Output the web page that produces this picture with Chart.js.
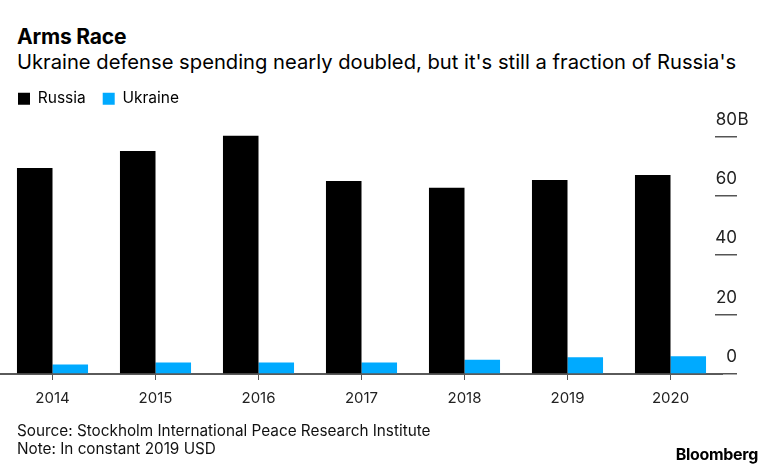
<!DOCTYPE html>
<html>
<head>
<meta charset="utf-8">
<script src="https://cdn.jsdelivr.net/npm/chart.js@4"></script>
<style>
  html, body { margin: 0; padding: 0; background: #fff; }
  body { width: 775px; height: 472px; position: relative; overflow: hidden; font-family: Inter, "Liberation Sans", Arial, sans-serif; color: #000; }
  .t { position: absolute; white-space: nowrap; line-height: 1; }
  #title { left: 17px; top: 26px; font-size: 21px; font-weight: 700; letter-spacing: -0.2px; }
  #subtitle { left: 17px; top: 52px; font-size: 20.2px; }
  #src { left: 17px; top: 423px; font-size: 15.3px; color: #111; }
  #note { left: 17px; top: 441px; font-size: 15.3px; color: #111; }
  #logo { right: 17px; top: 446px; font-size: 16px; font-weight: 700; letter-spacing: -0.3px; }
  #wrap { position: absolute; left: 0; top: 74px; width: 775px; height: 398px; }
</style>
</head>
<body>
<div class="t" id="title">Arms Race</div>
<div class="t" id="subtitle">Ukraine defense spending nearly doubled, but it's still a fraction of Russia's</div>
<div id="wrap"><canvas id="c"></canvas></div>
<div class="t" id="src">Source: Stockholm International Peace Research Institute</div>
<div class="t" id="note">Note: In constant 2019 USD</div>
<div class="t" id="logo">Bloomberg</div>
<script>
const years = ["2014", "2015", "2016", "2017", "2018", "2019", "2020"];
const russia = [69.4, 75.1, 80.2, 65.0, 62.7, 65.3, 67.0];
const ukraine = [3.2, 3.9, 3.9, 3.9, 4.8, 5.6, 6.0];
const yTicks = [0, 20, 40, 60, 80];
const yUnit = "B";
const seriesNames = ["Russia", "Ukraine"];
const seriesColors = ["#000000", "#00aaff"];

const FONT = "Inter, 'Liberation Sans', Arial, sans-serif";
const Y_MAX = 86.7;
const topTick = yTicks[yTicks.length - 1];

new Chart(document.getElementById('c'), {
  type: 'bar',
  data: {
    labels: years,
    datasets: [
      { label: seriesNames[0], data: russia, backgroundColor: seriesColors[0], yAxisID: 'y' },
      { label: seriesNames[1], data: ukraine, backgroundColor: seriesColors[1], yAxisID: 'y' }
    ]
  },
  options: {
    responsive: true,
    maintainAspectRatio: false,
    animation: false,
    events: [],
    layout: { padding: { left: 1, right: 0, top: 0, bottom: 68 } },
    datasets: { bar: { categoryPercentage: 0.69, barPercentage: 1.0 } },
    plugins: {
      tooltip: { enabled: false },
      legend: {
        display: true,
        position: 'top',
        align: 'start',
        labels: {
          boxWidth: 12,
          boxHeight: 12,
          padding: 17,
          color: '#000',
          font: { family: FONT, size: 15.5 }
        }
      }
    },
    scales: {
      x: {
        type: 'category',
        offset: true,
        grid: { display: true, drawOnChartArea: false, offset: false, tickLength: 6, color: '#555', lineWidth: 1 },
        border: { display: true, color: '#5a5a5a', width: 2 },
        ticks: { color: '#222', padding: 9, maxRotation: 0, font: { family: FONT, size: 15 } },
        afterFit: s => { s.height = 30; }
      },
      ySpacer: {
        type: 'linear',
        position: 'right',
        weight: 0,
        display: true,
        grid: { display: false, drawTicks: false },
        border: { display: false },
        ticks: { display: false },
        afterFit: s => { s.width = 15; }
      },
      y: {
        type: 'linear',
        position: 'right',
        weight: 1,
        min: 0,
        max: Y_MAX,
        grid: { display: true, drawOnChartArea: false, drawTicks: true, tickLength: -22, color: '#555', lineWidth: 1.5 },
        border: { display: false },
        afterBuildTicks: s => { s.ticks = yTicks.map(v => ({ value: v })); },
        ticks: {
          mirror: true,
          padding: 0,
          labelOffset: -17,
          color: '#222',
          font: { family: FONT, size: 17 },
          callback: v => String(v)
        },
        afterFit: s => { s.width = 38; }
      },
      yUnit: {
        type: 'linear',
        position: 'right',
        weight: 2,
        min: 0,
        max: Y_MAX,
        grid: { display: false, drawTicks: false },
        border: { display: false },
        afterBuildTicks: s => { s.ticks = yTicks.map(v => ({ value: v })); },
        ticks: {
          mirror: true,
          padding: -26.5,
          labelOffset: -17,
          color: '#222',
          font: { family: FONT, size: 17 },
          callback: v => (v === topTick ? yUnit : '')
        },
        afterFit: s => { s.width = 0; }
      }
    }
  }
});
</script>
</body>
</html>
